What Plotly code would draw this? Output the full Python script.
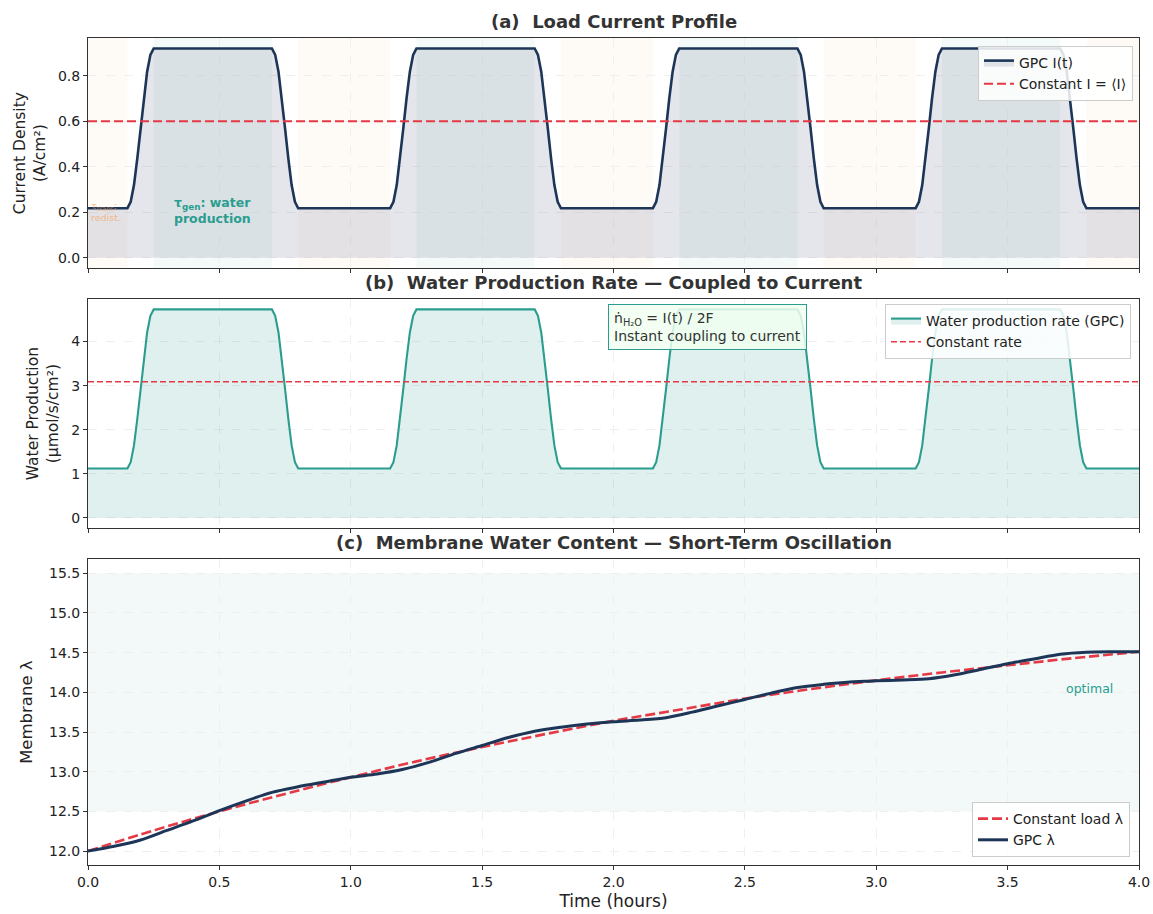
import plotly.graph_objects as go
from plotly.subplots import make_subplots

# ---------------- data ----------------
CYCLE_STARTS = [0.0, 1.0, 2.0, 3.0]            # hours
RISE_START, FALL_START = 0.15, 0.70            # offsets within each hour
RAMP_OFFSETS = [0.0, 0.0125, 0.025, 0.0375, 0.05, 0.0625, 0.075, 0.0875, 0.1]
RAMP_SHAPE = [0.0, 0.04, 0.145, 0.31, 0.5, 0.69, 0.855, 0.96, 1.0]

I_LOW, I_HIGH, I_CONST = 0.218, 0.92, 0.60      # A/cm2
W_LOW, W_HIGH, W_CONST = 1.12, 4.73, 3.09       # umol/s/cm2

TRANS_SPANS = [(0.0, 0.15), (0.8, 1.15), (1.8, 2.15), (2.8, 3.15), (3.8, 4.0)]
GEN_SPANS = [(0.25, 0.70), (1.25, 1.70), (2.25, 2.70), (3.25, 3.70)]

lam_t = [0.0, 0.1, 0.2, 0.3, 0.4, 0.5, 0.6, 0.7, 0.8, 0.9, 1.0, 1.1, 1.2, 1.3, 1.4,
         1.5, 1.6, 1.7, 1.8, 1.9, 2.0, 2.1, 2.2, 2.3, 2.4, 2.5, 2.6, 2.7, 2.8, 2.9,
         3.0, 3.1, 3.2, 3.3, 3.4, 3.5, 3.6, 3.7, 3.8, 3.9, 4.0]
lam_gpc = [12.00, 12.06, 12.14, 12.26, 12.38, 12.51, 12.63, 12.74, 12.81, 12.87,
           12.93, 12.97, 13.03, 13.12, 13.23, 13.33, 13.43, 13.51, 13.56, 13.60,
           13.63, 13.65, 13.68, 13.75, 13.83, 13.91, 13.99, 14.06, 14.10, 14.13,
           14.145, 14.155, 14.17, 14.22, 14.29, 14.36, 14.42, 14.48, 14.505, 14.51, 14.51]
lam_const_t = [0.0, 0.25, 0.5, 0.75, 1.0, 1.25, 1.5, 1.75, 2.0, 2.25, 2.5, 2.75,
               3.0, 3.25, 3.5, 3.75, 4.0]
lam_const = [12.00, 12.26, 12.50, 12.72, 12.93, 13.13, 13.31, 13.48, 13.64, 13.78,
             13.92, 14.04, 14.15, 14.25, 14.34, 14.43, 14.51]
OPT_LOW, OPT_HIGH = 12.5, 15.5

# ---------------- colours ----------------
NAVY = "#1d3557"
RED = "#e63946"
TEAL = "#2a9d8f"
ORANGE = "#f4a261"
FONT = "DejaVu Sans"


def profile(low, high):
    t, v = [0.0], [low]
    for c in CYCLE_STARTS:
        for dt, f in zip(RAMP_OFFSETS, RAMP_SHAPE):
            t.append(c + RISE_START + dt)
            v.append(low + (high - low) * f)
        for dt, f in zip(RAMP_OFFSETS, RAMP_SHAPE):
            t.append(c + FALL_START + dt)
            v.append(high - (high - low) * f)
    t.append(4.0)
    v.append(low)
    return t, v


t_I, I_vals = profile(I_LOW, I_HIGH)
t_W, W_vals = profile(W_LOW, W_HIGH)

fig = make_subplots(rows=3, cols=1, shared_xaxes=True)

# (a) current
fig.add_trace(go.Scatter(x=t_I, y=I_vals, mode="lines", name="GPC I(t)",
                         line=dict(color=NAVY, width=2.6),
                         fill="tozeroy",
                         fillcolor="rgba(29,53,87,0.12)", legend="legend"), row=1, col=1)
fig.add_trace(go.Scatter(x=[0, 4], y=[I_CONST, I_CONST], mode="lines",
                         name="Constant I = ⟨I⟩",
                         line=dict(color=RED, width=2, dash="9px,4px"),
                         legend="legend"), row=1, col=1)

# (b) water production
fig.add_trace(go.Scatter(x=t_W, y=W_vals, mode="lines", name="Water production rate (GPC)",
                         line=dict(color=TEAL, width=2.1),
                         fill="tozeroy",
                         fillcolor="rgba(42,157,143,0.15)", legend="legend2"), row=2, col=1)
fig.add_trace(go.Scatter(x=[0, 4], y=[W_CONST, W_CONST], mode="lines", name="Constant rate",
                         line=dict(color=RED, width=1.6, dash="6px,3px"),
                         legend="legend2"), row=2, col=1)

# (c) membrane water content
fig.add_trace(go.Scatter(x=lam_const_t, y=lam_const, mode="lines", name="Constant load λ",
                         line=dict(color=RED, width=2.6, dash="10px,4px", shape="spline"),
                         legend="legend3"), row=3, col=1)
fig.add_trace(go.Scatter(x=lam_t, y=lam_gpc, mode="lines", name="GPC λ",
                         line=dict(color=NAVY, width=3, shape="spline", smoothing=0.8),
                         legend="legend3"), row=3, col=1)

# background spans
shapes = []
for a, b in TRANS_SPANS:
    shapes.append(dict(type="rect", xref="x", yref="y domain", x0=a, x1=b, y0=0, y1=1,
                       fillcolor="rgba(244,162,97,0.06)", line_width=0, layer="below"))
for a, b in GEN_SPANS:
    shapes.append(dict(type="rect", xref="x", yref="y domain", x0=a, x1=b, y0=0, y1=1,
                       fillcolor="rgba(42,157,143,0.05)", line_width=0, layer="below"))
shapes.append(dict(type="rect", xref="x3 domain", yref="y3", x0=0, x1=1, y0=OPT_LOW,
                   y1=OPT_HIGH, fillcolor="rgba(42,157,143,0.06)", line_width=0,
                   layer="below"))

# geometry (screen pixel positions measured on the reference)
H_BOTTOM = 865
H = 827
dom_c = [0.0, (H_BOTTOM - 559.3) / H]
dom_b = [(H_BOTTOM - 528.3) / H, (H_BOTTOM - 299) / H]
dom_a = [(H_BOTTOM - 268.3) / H, 1.0]

axis_common = dict(showline=True, linecolor="#333333", linewidth=1, mirror=True,
                   ticks="outside", ticklen=4, tickcolor="#333333",
                   tickfont=dict(size=14, color="#222222", family=FONT),
                   showgrid=True, gridcolor="#efefef", griddash="dash", gridwidth=0.8,
                   zeroline=False, automargin=False)

for i in (1, 2, 3):
    key = "xaxis" if i == 1 else f"xaxis{i}"
    fig.layout[key].update(range=[0, 4], dtick=0.5, tick0=0, tickformat=".1f",
                           showticklabels=(i == 3), **axis_common)
fig.layout.xaxis3.ticklabeloverflow = "allow"
fig.layout.xaxis3.title = dict(text="Time (hours)", font=dict(size=17, color="#222222"),
                               standoff=6)

fig.layout.yaxis.update(domain=dom_a, range=[-0.046, 0.966], tickvals=[0, 0.2, 0.4, 0.6, 0.8],
                        tickformat=".1f", **axis_common)
fig.layout.yaxis.title = dict(text="Current Density<br>(A/cm²)",
                              font=dict(size=15.5, color="#222222"), standoff=8)
fig.layout.yaxis2.update(domain=dom_b, range=[-0.2365, 4.9665], tickvals=[0, 1, 2, 3, 4],
                         **axis_common)
fig.layout.yaxis2.title = dict(text="Water Production<br>(µmol/s/cm²)",
                               font=dict(size=15.5, color="#222222"), standoff=8)
fig.layout.yaxis3.update(domain=dom_c, range=[11.825, 15.675],
                         tickvals=[12.0, 12.5, 13.0, 13.5, 14.0, 14.5, 15.0, 15.5],
                         tickformat=".1f", **axis_common)
fig.layout.yaxis3.title = dict(text="Membrane λ", font=dict(size=16.5, color="#222222"),
                               standoff=12)

legend_common = dict(bgcolor="rgba(255,255,255,0.85)", bordercolor="#cccccc", borderwidth=1,
                     font=dict(size=14, color="#222222", family=FONT), xanchor="right",
                     tracegroupgap=0)

annotations = [
    dict(text="<b>(a)  Load Current Profile</b>", xref="paper", yref="paper", x=0.5,
         y=dom_a[1], yanchor="bottom", yshift=4, showarrow=False,
         font=dict(size=18, color="#333333")),
    dict(text="<b>(b)  Water Production Rate — Coupled to Current</b>", xref="paper",
         yref="paper", x=0.5, y=dom_b[1], yanchor="bottom", yshift=4, showarrow=False,
         font=dict(size=18, color="#333333")),
    dict(text="<b>(c)  Membrane Water Content — Short-Term Oscillation</b>", xref="paper",
         yref="paper", x=0.5, y=dom_c[1], yanchor="bottom", yshift=4, showarrow=False,
         font=dict(size=18, color="#333333")),
    dict(text="<b>τ<sub>gen</sub>: water<br>production</b>", xref="x", yref="y", x=0.32,
         y=0.21, xanchor="left", yanchor="middle", align="left", showarrow=False,
         font=dict(size=12.5, color=TEAL)),
    dict(text="τ<sub>trans</sub>:<br>redist.", xref="x", yref="y", x=0.005, y=0.205,
         xanchor="left", yanchor="middle", align="left", showarrow=False, opacity=0.65,
         font=dict(size=9.5, color=ORANGE)),
    dict(text="ṅ<sub>H₂O</sub> = I(t) / 2F<br>Instant coupling to current", xref="paper",
         yref="paper", x=(608 - 88) / 1051, y=(H_BOTTOM - 304) / H, xanchor="left",
         yanchor="top", align="left", showarrow=False, bgcolor="rgba(240,255,240,0.85)",
         bordercolor=TEAL, borderwidth=1, borderpad=5,
         font=dict(size=14, color="#333333")),
    dict(text="optimal", xref="x3", yref="y3", x=3.81, y=14.05, showarrow=False,
         font=dict(size=12.5, color=TEAL)),
]

fig.update_layout(
    width=1153, height=914,
    margin=dict(l=88, r=14, t=38, b=49, autoexpand=False),
    paper_bgcolor="white", plot_bgcolor="white",
    font=dict(family=FONT, color="#222222"),
    shapes=shapes,
    annotations=annotations,
    legend=dict(x=(1133 - 88) / 1051, y=(H_BOTTOM - 46) / H, yanchor="top", **legend_common),
    legend2=dict(x=(1131 - 88) / 1051, y=(H_BOTTOM - 304) / H, yanchor="top", **legend_common),
    legend3=dict(x=(1130 - 88) / 1051, y=(H_BOTTOM - 857) / H, yanchor="bottom",
                 **legend_common),
)

# remove the default page margin so the 1153x914 figure fills the window exactly
fig.write_html("out.html",
               config={"displayModeBar": False},
               post_script="document.body.style.margin='0';"
                           "document.body.style.overflow='hidden';")
